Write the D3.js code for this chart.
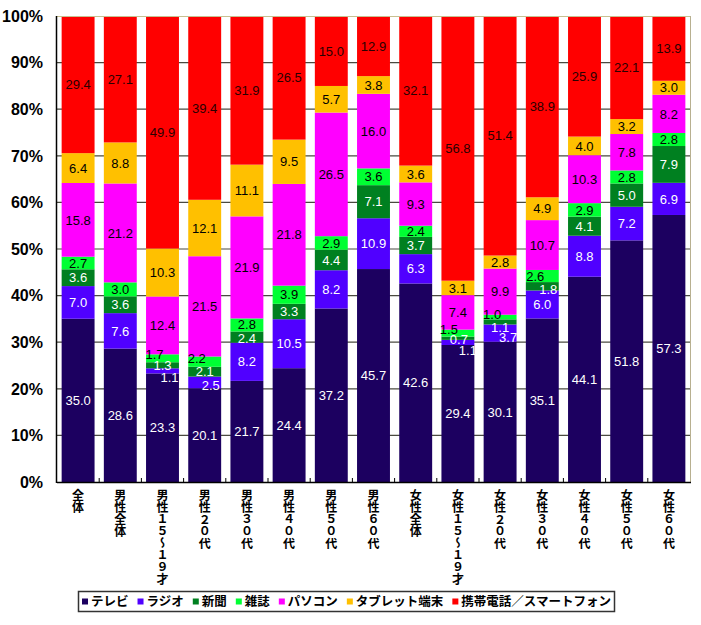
<!DOCTYPE html>
<html><head><meta charset="utf-8">
<script src="https://cdn.jsdelivr.net/npm/d3@7/dist/d3.min.js"></script>
<style>
html,body{margin:0;padding:0;background:#fff;}
svg{display:block;}
</style></head>
<body>
<script>
// ---- data ----
const categories = ["全体","男性全体","男性１５～１９才","男性２０代","男性３０代","男性４０代","男性５０代","男性６０代",
  "女性全体","女性１５～１９才","女性２０代","女性３０代","女性４０代","女性５０代","女性６０代"];
const seriesNames = ["テレビ","ラジオ","新聞","雑誌","パソコン","タブレット端末","携帯電話／スマートフォン"];
const tv        = [35.0,28.6,23.3,20.1,21.7,24.4,37.2,45.7,42.6,29.4,30.1,35.1,44.1,51.8,57.3];
const radio     = [ 7.0, 7.6, 1.1, 2.5, 8.2,10.5, 8.2,10.9, 6.3, 1.1, 3.7, 6.0, 8.8, 7.2, 6.9];
const newspaper = [ 3.6, 3.6, 1.3, 2.1, 2.4, 3.3, 4.4, 7.1, 3.7, 0.7, 1.1, 1.8, 4.1, 5.0, 7.9];
const magazine  = [ 2.7, 3.0, 1.7, 2.2, 2.8, 3.9, 2.9, 3.6, 2.4, 1.5, 1.0, 2.6, 2.9, 2.8, 2.8];
const pc        = [15.8,21.2,12.4,21.5,21.9,21.8,26.5,16.0, 9.3, 7.4, 9.9,10.7,10.3, 7.8, 8.2];
const tablet    = [ 6.4, 8.8,10.3,12.1,11.1, 9.5, 5.7, 3.8, 3.6, 3.1, 2.8, 4.9, 4.0, 3.2, 3.0];
const mobile    = [29.4,27.1,49.9,39.4,31.9,26.5,15.0,12.9,32.1,56.8,51.4,38.9,25.9,22.1,13.9];
const yTicks = [0,10,20,30,40,50,60,70,80,90,100];
const yTickLabels = ["0%","10%","20%","30%","40%","50%","60%","70%","80%","90%","100%"];

// ---- styling ----
const colors = ["#1c0060","#5000ff","#008020","#00ff33","#ff00ff","#ffc000","#ff0000"];
const labelColors = ["#fff","#fff","#fff","#000","#000","#000","#2a0000"];
// manual label nudges [dx, dy] keyed "category-series"
const nudges = {
  "2-3":[-8,-4],"2-1":[7,6],
  "3-3":[-8,-3],"3-1":[6,3],
  "4-3":[0,-1],"4-2":[0,1],
  "9-3":[-9,-4],"9-2":[1,1],"9-1":[10,8],
  "10-3":[-8,-3],"10-2":[0,5],"10-1":[8,4],
  "11-3":[-7,0],"11-2":[6,3]
};

const W = 701, H = 625;
const L = 57, R = 690, T = 16, B = 482;
const svg = d3.select("body").append("svg").attr("width", W).attr("height", H);

const seriesArrays = [tv, radio, newspaper, magazine, pc, tablet, mobile];
const rows = categories.map((c, i) => {
  const r = {cat: c, idx: i};
  seriesNames.forEach((s, j) => r[s] = seriesArrays[j][i]);
  return r;
});
const stack = d3.stack().keys(seriesNames).offset(d3.stackOffsetExpand);
const stacked = stack(rows);

const x = d3.scaleBand().domain(categories).range([L, R]).paddingInner(0.22).paddingOuter(0.11);
const y = d3.scaleLinear().domain([0, 100]).range([B, T]);
const yf = d3.scaleLinear().domain([0, 1]).range([B, T]);

// gridlines
svg.append("g").selectAll("line").data(yTicks.filter(t => t > 0 && t < 100)).join("line")
  .attr("x1", L).attr("x2", R).attr("y1", d => y(d)).attr("y2", d => y(d))
  .attr("stroke", "#4a4a40").attr("stroke-width", 1.2);

// bars
const gs = svg.append("g").selectAll("g").data(stacked).join("g")
  .attr("fill", (d, i) => colors[i]);
gs.selectAll("rect").data(d => d).join("rect")
  .attr("x", d => x(d.data.cat))
  .attr("width", x.bandwidth())
  .attr("y", d => yf(d[1]))
  .attr("height", d => yf(d[0]) - yf(d[1]));

// labels
const lg = svg.append("g").attr("font-family", "'Liberation Sans Narrow','Arial Narrow',sans-serif")
  .attr("font-size", 13).attr("text-anchor", "middle");
stacked.forEach((ser, j) => {
  ser.forEach((d, i) => {
    const n = nudges[i + "-" + j] || [0, 0];
    lg.append("text")
      .attr("x", x(d.data.cat) + x.bandwidth() / 2 + n[0])
      .attr("y", (yf(d[0]) + yf(d[1])) / 2 + n[1])
      .attr("dy", "0.36em")
      .attr("fill", labelColors[j])
      .text(seriesArrays[j][i].toFixed(1));
  });
});

// plot frame
svg.append("line").attr("x1", L).attr("x2", R).attr("y1", T + 0.5).attr("y2", T + 0.5).attr("stroke", "#c8c090");
svg.append("line").attr("x1", R + 0.5).attr("x2", R + 0.5).attr("y1", T).attr("y2", B).attr("stroke", "#b8b090");
svg.append("line").attr("x1", L - 0.5).attr("x2", L - 0.5).attr("y1", T).attr("y2", B + 1).attr("stroke", "#000").attr("stroke-width", 1.5);
svg.append("line").attr("x1", L).attr("x2", R + 1).attr("y1", B + 0.5).attr("y2", B + 0.5).attr("stroke", "#000").attr("stroke-width", 1.5);
// x ticks at band boundaries
const step = x.step();
svg.append("g").selectAll("line").data(d3.range(1, categories.length)).join("line")
  .attr("x1", i => L + i * step).attr("x2", i => L + i * step)
  .attr("y1", B - 4).attr("y2", B).attr("stroke", "#000");

// y tick labels
svg.append("g").selectAll("text").data(yTicks).join("text")
  .attr("x", 43).attr("y", d => y(d)).attr("dy", "0.36em")
  .attr("text-anchor", "end")
  .attr("font-family", "'Liberation Sans Narrow','Arial Narrow',sans-serif")
  .attr("font-weight", "bold").attr("font-size", 16).attr("fill", "#000")
  .text((d, i) => yTickLabels[i]);

// x category labels (vertical)
svg.append("g").selectAll("text").data(categories).join("text")
  .attr("x", d => x(d) + x.bandwidth() / 2)
  .attr("y", 489)
  .attr("style", "writing-mode: vertical-rl; text-orientation: upright;")
  .attr("font-family", "'Noto Sans CJK JP',sans-serif")
  .attr("font-weight", "bold").attr("font-size", 12).attr("fill", "#000")
  .text(d => d);

// legend
const legend = svg.append("g");
legend.append("rect").attr("x", 78.5).attr("y", 591.5).attr("width", 536).attr("height", 20)
  .attr("fill", "#fff").attr("stroke", "#333").attr("stroke-width", 1.5);
let lx = 0;
const items = [];
seriesNames.forEach((s, j) => {
  const g = legend.append("g");
  g.append("rect").attr("x", 0).attr("y", -3).attr("width", 6).attr("height", 6).attr("fill", colors[j]);
  const t = g.append("text").attr("x", 9).attr("y", 0).attr("dy", "0.36em")
    .attr("font-family", "'Noto Sans CJK JP',sans-serif").attr("font-weight", "bold")
    .attr("font-size", 12.5).attr("fill", "#000").text(s);
  const w = 9 + t.node().getComputedTextLength();
  items.push({g, w});
});
const gap = 9;
const total = d3.sum(items, d => d.w) + gap * (items.length - 1);
lx = 78.5 + (536 - total) / 2;
items.forEach(it => { it.g.attr("transform", `translate(${lx},601.5)`); lx += it.w + gap; });
</script>
</body></html>
